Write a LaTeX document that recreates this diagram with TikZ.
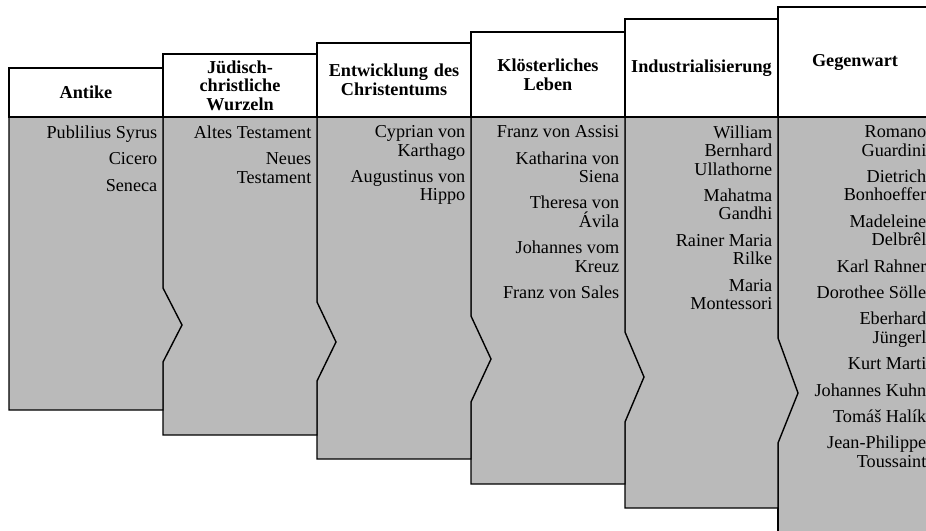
\documentclass[tikz,border=0pt]{standalone}
\usepackage{fontspec}
\setmainfont{Liberation Serif}
\definecolor{panel}{gray}{0.73}

\begin{document}
\begin{tikzpicture}[x=0.5pt,y=-0.5pt,line width=0.7pt,
		head/.style={draw,fill=white,inner sep=0pt,minimum width=77pt,text width=74pt,align=center,font=\bfseries\fontsize{9.1}{9.3}\selectfont},
		names/.style={anchor=north east,inner xsep=2.5pt,inner ysep=4pt,align=right,font=\fontsize{9.1}{9.2}\selectfont}]

		\useasboundingbox (0,0) rectangle (926,530);
		\clip (0,0) rectangle (926,530);

		% gray columns, drawn from right to left so that each arrow lies on top
		\filldraw[fill=panel] (778,117) -- (932,117) -- (932,540) -- (778,540) -- cycle;
		\filldraw[fill=panel] (625,117) -- (778,117) -- (778,338) -- (798,393) -- (778,443) -- (778,508) -- (625,508) -- cycle;
		\filldraw[fill=panel] (471,117) -- (625,117) -- (625,332) -- (644,377) -- (625,422) -- (625,484) -- (471,484) -- cycle;
		\filldraw[fill=panel] (317,117) -- (471,117) -- (471,316) -- (491,359) -- (471,402) -- (471,459) -- (317,459) -- cycle;
		\filldraw[fill=panel] (163,117) -- (317,117) -- (317,302) -- (336,342) -- (317,381) -- (317,435) -- (163,435) -- cycle;
		\filldraw[fill=panel] (9,117) -- (163,117) -- (163,288) -- (182,325) -- (163,362) -- (163,410) -- (9,410) -- cycle;

		% headers
		\node[head,minimum height=24.5pt] (antike) at (86,92.5) {Antike};
		\node[head,minimum height=31.5pt] (wurzeln) at (240,85.5) {Jüdisch-\\christliche\\Wurzeln};
		\node[head,minimum height=37pt] (christentum) at (394,80) {Entwicklung des\\Christentums};
		\node[head,minimum height=42.5pt] (kloster) at (548,74.5) {Klösterliches\\Leben};
		\node[head,minimum height=49pt,minimum width=76.5pt] (industrie) at (701.5,68) {Industrialisierung};
		\node[head,minimum height=55pt] (gegenwart) at (855,62) {Gegenwart};

		% names
		\node[names] (antikeN) at (163,117) {Publilius Syrus\\[4pt] Cicero\\[4pt] Seneca};
		\node[names] (wurzelnN) at (317,117) {Altes Testament\\[4pt] Neues\\ Testament};
		\node[names] (christentumN) at (471,117) {Cyprian von\\ Karthago\\[4pt] Augustinus von\\ Hippo};
		\node[names] (klosterN) at (625,117) {Franz von Assisi\\[4pt] Katharina von\\ Siena\\[4pt] Theresa von\\ Ávila\\[4pt]
			Johannes vom\\ Kreuz\\[4pt] Franz von Sales};
		\node[names] (industrieN) at (778,117) {William\\ Bernhard\\ Ullathorne\\[4pt] Mahatma\\ Gandhi\\[4pt]
			Rainer Maria\\ Rilke\\[4pt] Maria\\ Montessori};
		\node[names] (gegenwartN) at (932,117) {Romano\\ Guardini\\[4pt] Dietrich\\ Bonhoeffer\\[4pt] Madeleine\\ Delbrêl\\[4pt]
			Karl Rahner\\[4pt] Dorothee Sölle\\[4pt] Eberhard\\ Jüngerl\\[4pt] Kurt Marti\\[4pt] Johannes Kuhn\\[4pt]
			Tomáš Halík\\[4pt] Jean-Philippe\\ Toussaint};
	\end{tikzpicture}
\end{document}
